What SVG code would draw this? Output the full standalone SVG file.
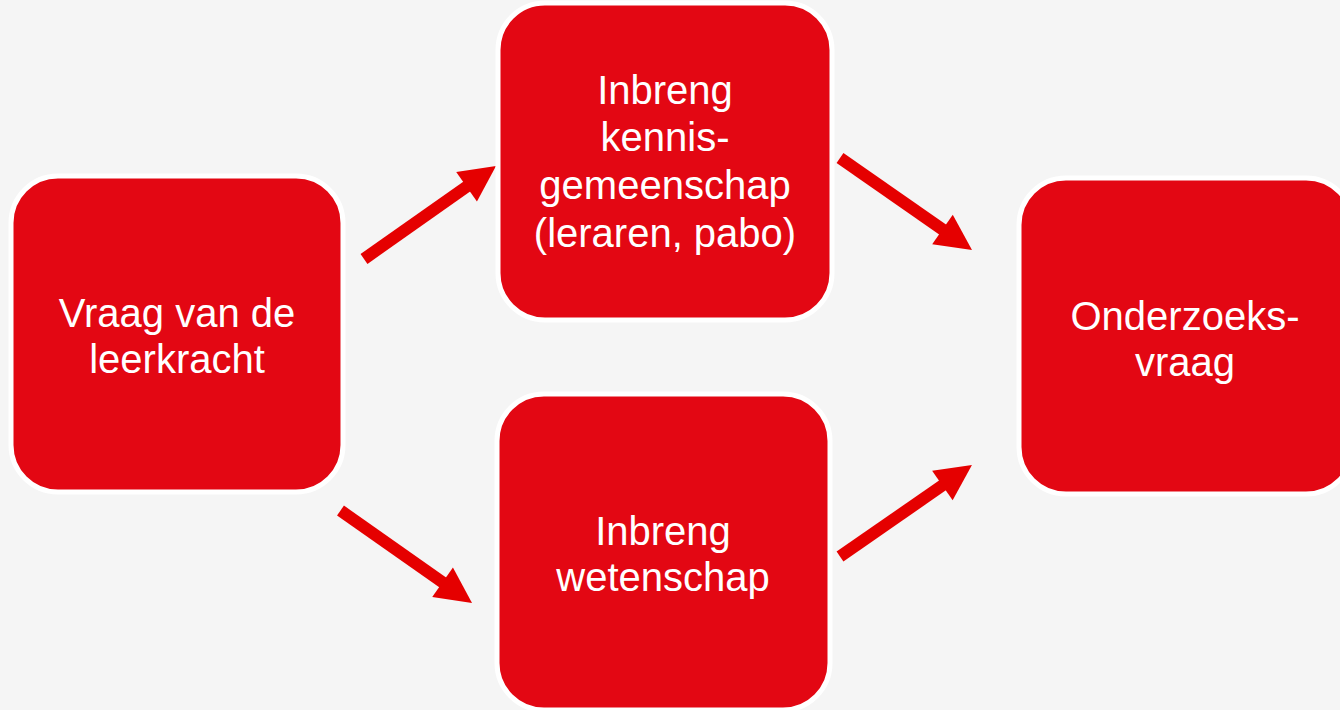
<svg xmlns="http://www.w3.org/2000/svg" width="1340" height="710" viewBox="0 0 1340 710">
  <style>
    .box { fill: #e30713; stroke: #ffffff; stroke-width: 5; }
    .lbl { fill: #ffffff; font-family: "Liberation Sans", Arial, sans-serif; font-size: 40px; text-anchor: middle; }
    .conn { stroke: #e50000; stroke-width: 12; fill: none; marker-end: url(#head); }
  </style>
  <defs>
    <marker id="head" markerUnits="userSpaceOnUse" viewBox="0 -18 36 36" markerWidth="36" markerHeight="36" refX="1" refY="0" orient="auto" overflow="visible">
      <path d="M0,-18 L36,0 L0,18 Z" fill="#e50000"/>
    </marker>
  </defs>
  <rect x="0" y="0" width="1340" height="710" fill="#f5f5f5"/>

  <g id="connectors">
    <line class="conn" x1="364" y1="259" x2="467.4" y2="186.1"/>
    <line class="conn" x1="840" y1="158" x2="943.3" y2="230"/>
    <line class="conn" x1="340.5" y1="510.5" x2="443.4" y2="582.9"/>
    <line class="conn" x1="840" y1="556.5" x2="943.2" y2="484.9"/>
  </g>

  <g id="node-vraag">
    <rect class="box" x="11" y="176" width="332" height="316" rx="47"/>
    <text class="lbl" x="177" y="327">Vraag van de</text>
    <text class="lbl" x="177" y="373">leerkracht</text>
  </g>

  <g id="node-kennisgemeenschap">
    <rect class="box" x="498" y="3" width="334" height="317" rx="47"/>
    <text class="lbl" x="665" y="104">Inbreng</text>
    <text class="lbl" x="665" y="151">kennis-</text>
    <text class="lbl" x="665" y="199">gemeenschap</text>
    <text class="lbl" x="665" y="247">(leraren, pabo)</text>
  </g>

  <g id="node-wetenschap">
    <rect class="box" x="497" y="394" width="333" height="316" rx="47"/>
    <text class="lbl" x="663" y="545">Inbreng</text>
    <text class="lbl" x="663" y="591">wetenschap</text>
  </g>

  <g id="node-onderzoeksvraag">
    <rect class="box" x="1019" y="178" width="334" height="316" rx="47"/>
    <text class="lbl" x="1185" y="330">Onderzoeks-</text>
    <text class="lbl" x="1185" y="376">vraag</text>
  </g>
</svg>
